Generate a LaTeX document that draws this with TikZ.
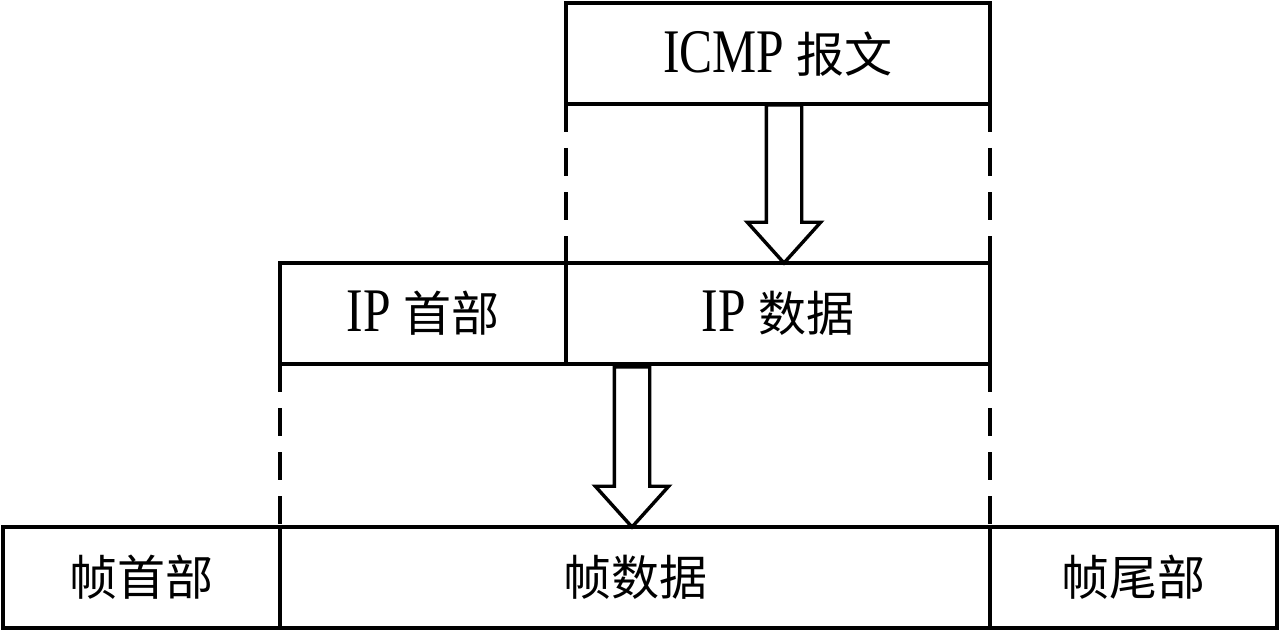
\documentclass[tikz,border=0pt]{standalone}
\usepackage{fontspec}
\setmainfont{Liberation Serif}[FakeStretch=0.8]
\newfontfamily\cjk{Noto Sans CJK SC}
\usetikzlibrary{positioning}
\usetikzlibrary{shapes.arrows}
\newcommand{\zh}[1]{{\cjk\fontsize{24}{28}\selectfont #1}}
\tikzset{box/.style={draw, line width=1.7pt, outer sep=0pt, inner sep=0pt,
    minimum height=50.5pt, font=\fontsize{31}{36}\selectfont},
  dashline/.style={line width=1.7pt, dash pattern=on 14pt off 8pt},
  blockarrow/.style={draw, line width=1.7pt, single arrow, shape border rotate=270,
    inner sep=8pt, outer sep=0pt, minimum width=36pt,
    single arrow head extend=9.5pt, single arrow tip angle=84}
}

\begin{document}
\begin{tikzpicture}[x=0.5pt,y=-0.5pt]
                \useasboundingbox (0,0) rectangle (1280,631);
                
                % ICMP
                \node[box, minimum width=212pt] (icmp) at (778,53.5) {ICMP \zh{报文}};
                
                % IP
                \node[box, minimum width=143pt] (iphead) at (423,313.5) {IP \zh{首部}};
                \node[box, minimum width=212pt, right=0pt of iphead] (ipdata) {IP \zh{数据}};
                
                % Frame
                \node[box, minimum width=355pt] (fdata) at (635,577.5) {\zh{帧数据}};
                \node[box, minimum width=138.5pt, left=0pt of fdata] (fhead) {\zh{帧首部}};
                \node[box, minimum width=143.5pt, right=0pt of fdata] (ftail) {\zh{帧尾部}};
                
                % Dashed guides
                \draw[dashline] (icmp.south west) -- (ipdata.north west);
                \draw[dashline] (icmp.south east) -- (ipdata.north east);
                \draw[dashline] (iphead.south west) -- (fdata.north west);
                \draw[dashline] (ipdata.south east) -- (fdata.north east);
                
                % Arrows
                \node[blockarrow, minimum height=79pt, anchor=tip, xshift=3pt] (arrA) at (ipdata.north) {};
                \node[blockarrow, minimum height=80pt, anchor=tip, xshift=-1.5pt] (arrB) at (fdata.north) {};
            \end{tikzpicture}
\end{document}
